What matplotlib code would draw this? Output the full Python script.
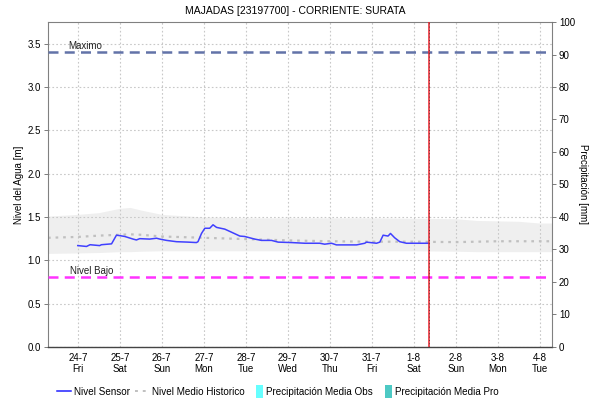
import numpy as np
import pandas as pd
import matplotlib
matplotlib.use("Agg")
import matplotlib.pyplot as plt
import matplotlib.dates as mdates
from matplotlib.lines import Line2D
from matplotlib.patches import Patch, Rectangle
from matplotlib.legend_handler import HandlerPatch

plt.rcParams['font.family'] = ['Liberation Sans', 'DejaVu Sans']

# sensor readings: hours after 24-7 00:00 and level in metres
sensor_hours = [0, 5, 7, 12.5, 13.5, 19.3, 22.1, 24, 26.9, 31.6, 33.5, 35.4, 41.1, 45,
                46.9, 50.7, 56.4, 63, 67.8, 68.7, 70.7, 72.6, 75.4, 77.3, 79.3, 84,
                87.8, 92.6, 95.4, 101.1, 105, 110.7, 114.5, 122.1, 129.7, 138.3,
                141.1, 145, 147.8, 155.4, 159.3, 164, 165, 170.7, 172.6, 174.5,
                177.3, 178.7, 181.1, 184, 187.8, 200.6]
sensor_level = [1.17, 1.16, 1.18, 1.17, 1.18, 1.19, 1.29, 1.285, 1.275, 1.245, 1.235,
                1.25, 1.245, 1.255, 1.245, 1.23, 1.215, 1.21, 1.205, 1.215, 1.31,
                1.37, 1.37, 1.41, 1.38, 1.36, 1.325, 1.28, 1.275, 1.245, 1.23, 1.23,
                1.21, 1.205, 1.197, 1.197, 1.186, 1.197, 1.178, 1.178, 1.178, 1.197,
                1.21, 1.197, 1.21, 1.29, 1.28, 1.31, 1.26, 1.215, 1.197, 1.197]

# historic statistics (hours after 24-7 00:00)
hist_hours = [-17, 0, 12, 24, 30, 36, 48, 72, 96, 120, 144, 168, 192, 216, 228, 240, 252, 264, 271]
hist_mean = [1.26, 1.27, 1.285, 1.295, 1.30, 1.295, 1.275, 1.26, 1.245, 1.23, 1.22,
             1.215, 1.215, 1.21, 1.215, 1.22, 1.22, 1.22, 1.22]
hist_max = [1.51, 1.53, 1.55, 1.60, 1.61, 1.58, 1.53, 1.50, 1.49, 1.49, 1.49,
            1.49, 1.485, 1.48, 1.46, 1.455, 1.45, 1.43, 1.43]
hist_min = [1.08, 1.085, 1.09, 1.10, 1.10, 1.105, 1.11, 1.11, 1.11, 1.11, 1.11,
            1.11, 1.11, 1.105, 1.10, 1.10, 1.10, 1.10, 1.10]

nivel_maximo = 3.40
nivel_bajo = 0.81

origin = pd.Timestamp('2020-07-24 00:00')
now = pd.Timestamp('2020-08-01 08:40')
t_start = pd.Timestamp('2020-07-23 07:00')
t_end = pd.Timestamp('2020-08-04 07:00')

sensor_t = origin + pd.to_timedelta(sensor_hours, unit='h')
hist_t = origin + pd.to_timedelta(hist_hours, unit='h')


def narrow_box(legend, orig_handle, xdescent, ydescent, width, height, fontsize):
    # small square swatch sitting at the right end of the handle slot
    w = 0.5 * width
    return Rectangle((width - w - xdescent, -ydescent - 1.5), w, height + 3)


fig = plt.figure(figsize=(5.9, 4.03), dpi=100)
ax = fig.add_axes([0.0814, 0.139, 0.8542, 0.8064])

ax.fill_between(hist_t, hist_min, hist_max, color='#efefef', lw=0, zorder=1)
ax.plot(hist_t, hist_mean, color='#c0c0c0', lw=1.6, ls=(0, (1.2, 2.2)), zorder=2)
ax.plot(sensor_t, sensor_level, color='#4040ff', lw=1.1, zorder=4)

ax.axhline(nivel_maximo, color='#6273a8', lw=1.8, ls=(0, (4, 2.5)), zorder=3)
ax.axhline(nivel_bajo, color='#ff33ff', lw=1.8, ls=(0, (4, 2.5)), zorder=3)
ax.text(mdates.date2num(t_start) + 0.47, nivel_maximo + 0.01, 'Maximo',
        fontsize=7, va='bottom', ha='left', color='#222222')
ax.text(mdates.date2num(t_start) + 0.52, nivel_bajo + 0.01, 'Nivel Bajo',
        fontsize=7, va='bottom', ha='left', color='#222222')

ax.axvline(now, color='#e8202a', lw=1.1, zorder=5)
ax.axvline(now, color='#333333', lw=0.6, ls=(0, (1, 3)), zorder=6)

ax.set_xlim(t_start, t_end)
ax.set_ylim(0, 3.75)
ax.set_yticks(np.arange(0, 3.6, 0.5))
ax.yaxis.set_major_formatter(plt.FormatStrFormatter('%.1f'))

days = pd.date_range('2020-07-24', '2020-08-04', freq='D')
ax.set_xticks(days)
ax.set_xticklabels([f'{d.day}-{d.month}\n{d.strftime("%a")}' for d in days])

ax.grid(True, color='#c8c8c8', ls=(0, (1.5, 2)), lw=0.8, zorder=0)
ax.tick_params(labelsize=7, length=3, width=0.6, color='#666666', pad=2)
ax.tick_params(axis='x', length=0, pad=4)
for s in ['left', 'top', 'right']:
    ax.spines[s].set_color('#808080')
    ax.spines[s].set_linewidth(0.8)
ax.spines['bottom'].set_color('#444444')
ax.spines['bottom'].set_linestyle((0, (1, 1)))
ax.spines['bottom'].set_linewidth(1)
ax.set_ylabel('Nivel del Agua [m]', fontsize=7, labelpad=3)

ax2 = ax.twinx()
ax2.set_ylim(0, 100)
ax2.set_yticks(np.arange(0, 101, 10))
ax2.tick_params(labelsize=7, length=3, width=0.6, color='#666666', pad=2)
for s in ax2.spines.values():
    s.set_visible(False)
ax2.set_ylabel('Precipitación [mm]', fontsize=7, rotation=270, labelpad=9)

fig.suptitle('MAJADAS [23197700] - CORRIENTE: SURATA', fontsize=7.5, y=0.985, x=0.5)

handles = [Line2D([], [], color='#2020ff', lw=1.1),
           Line2D([], [], color='#c0c0c0', lw=1.4, ls=(0, (1.5, 2.5))),
           Patch(facecolor='#66ffff', edgecolor='none'),
           Patch(facecolor='#4dc9c4', edgecolor='none')]
labels = ['Nivel Sensor', 'Nivel Medio Historico', 'Precipitación Media Obs',
          'Precipitación Media Pro']
fig.legend(handles, labels, loc='center', bbox_to_anchor=(0.471, 0.027), ncol=4,
           frameon=False, fontsize=7.1, handlelength=1.4, handletextpad=0.3,
           columnspacing=0.5, handleheight=1.0,
           handler_map={Patch: HandlerPatch(patch_func=narrow_box)})

fig.savefig('out.png', dpi=100)
